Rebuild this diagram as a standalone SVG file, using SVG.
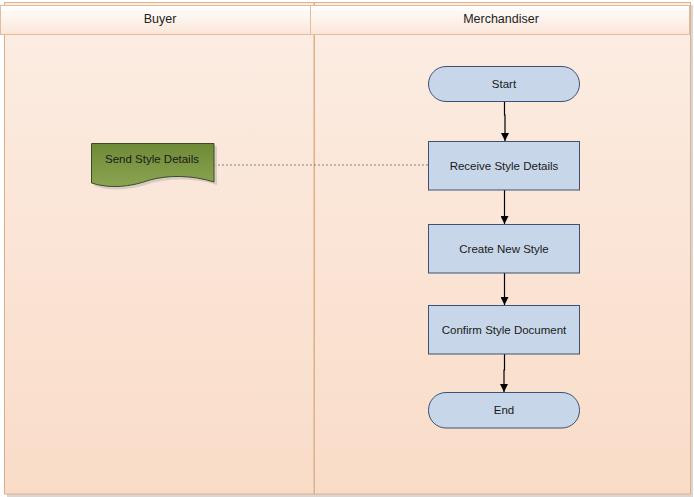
<svg xmlns="http://www.w3.org/2000/svg" width="694" height="497" viewBox="0 0 694 497">
<defs>
<linearGradient id="laneG" x1="0" y1="0" x2="0" y2="1">
<stop offset="0" stop-color="#FCEDE3"/>
<stop offset="1" stop-color="#F9DCC8"/>
</linearGradient>
<linearGradient id="headG" x1="0" y1="0" x2="0" y2="1">
<stop offset="0" stop-color="#FFFFFF"/>
<stop offset="1" stop-color="#FBE6D8"/>
</linearGradient>
<linearGradient id="docG" x1="0" y1="0" x2="0" y2="1">
<stop offset="0" stop-color="#6F8A36"/>
<stop offset="1" stop-color="#8AA452"/>
</linearGradient>
<marker id="arr" viewBox="0 0 10 10" refX="10" refY="5" markerWidth="8" markerHeight="8" markerUnits="userSpaceOnUse" orient="auto">
<path d="M0,0 L10,5 L0,10 Z" fill="#000"/>
</marker>
<style>
.lane{fill:url(#laneG);stroke:#DDB08C;stroke-width:1}
.head{fill:url(#headG);stroke:#E2BC9C;stroke-width:1}
.shadow{fill:#D9D6D3}
.node{fill:#C7D6E8;stroke:#3D5273;stroke-width:1}
.t{font-family:"Liberation Sans",Arial,sans-serif;font-size:11.5px;fill:#1A1A1A;text-anchor:middle;dominant-baseline:central}
.lt{font-family:"Liberation Sans",Arial,sans-serif;font-size:12.5px;fill:#222;text-anchor:middle;dominant-baseline:central}
.conn{stroke:#000;stroke-width:1.2;fill:none}
.dot{stroke:#808080;stroke-width:1;stroke-dasharray:2 2;fill:none}
</style>
</defs>
<g id="lane-buyer">
<rect class="shadow" x="7" y="5" width="310" height="492"/>
<rect class="lane" x="4.5" y="2.5" width="309.5" height="491.5"/>
<rect class="head" x="0.5" y="5.5" width="310" height="29"/>
<text class="lt" x="160" y="19">Buyer</text>
</g>
<g id="lane-merchandiser">
<rect class="shadow" x="317" y="5" width="376" height="492"/>
<rect class="lane" x="314.5" y="2.5" width="376" height="491.5"/>
<rect class="head" x="310.5" y="5.5" width="379" height="29"/>
<text class="lt" x="501" y="19">Merchandiser</text>
</g>
<g id="connectors">
<path class="dot" d="M214,165 H428"/>
<path class="conn" d="M504.5,101 V115 H505 V141" marker-end="url(#arr)"/>
<path class="conn" d="M504.5,190 V224" marker-end="url(#arr)"/>
<path class="conn" d="M504.5,273 V305" marker-end="url(#arr)"/>
<path class="conn" d="M504.5,354 V370 H504 V392" marker-end="url(#arr)"/>
</g>
<g id="send-style-details">
<path d="M94,146 H217 V185 C195,178 170,178 152,183 C132,190 112,192 94,186 Z" fill="#CFC6BC" opacity="0.8"/>
<path d="M91.5,143.5 H214 V182 C192,175 168,175 150,180 C130,187 110,189 91.5,183 Z" fill="url(#docG)" stroke="#3D4A2A" stroke-width="1"/>
<text class="t" x="152" y="159">Send Style Details</text>
</g>
<g id="start">
<rect class="node" x="428.5" y="66.5" width="151" height="35" rx="17.5"/>
<text class="t" x="504" y="84">Start</text>
</g>
<g id="receive-style-details">
<rect class="node" x="428.5" y="141.5" width="151" height="48.5"/>
<text class="t" x="504" y="166">Receive Style Details</text>
</g>
<g id="create-new-style">
<rect class="node" x="428.5" y="224.5" width="151" height="48.5"/>
<text class="t" x="504" y="249">Create New Style</text>
</g>
<g id="confirm-style-document">
<rect class="node" x="428.5" y="305.5" width="151" height="48.5"/>
<text class="t" x="504" y="330">Confirm Style Document</text>
</g>
<g id="end">
<rect class="node" x="428.5" y="392.5" width="151" height="35.5" rx="17.5"/>
<text class="t" x="504" y="410">End</text>
</g>
</svg>
